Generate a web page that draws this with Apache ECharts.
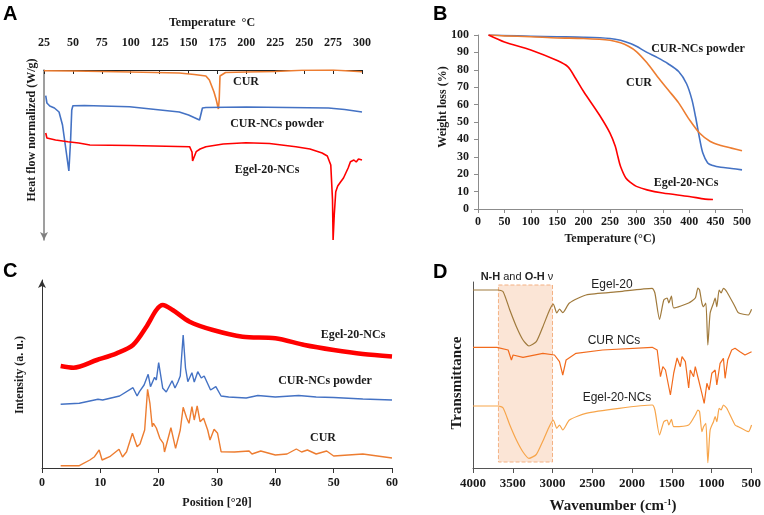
<!DOCTYPE html>
<html>
<head>
<meta charset="utf-8">
<script src="https://cdn.jsdelivr.net/npm/echarts/dist/echarts.min.js"></script>
<style>
  html, body { margin: 0; padding: 0; background: #fff; }
  #chart { width: 764px; height: 515px; }
</style>
</head>
<body>
<div id="chart"></div>
<script>
// A: DSC, heat flow in arbitrary units (endotherm down)
const dscCur = [[25, -0.7], [50, -1], [100, -2], [142, -3], [155, -4.5], [165, -6], [168, -10], [170, -16], [172, -22],
    [174, -30], [175.8, -39], [176.5, -30], [177.2, -6], [178.5, -4], [182, -2.5], [200, -2], [225, -1.5], [248, -0.3],
    [275, 0], [300, -1.7]];
const dscCurNcs = [[26.5, -25.7], [27.5, -33], [30, -36], [34, -38], [38, -42], [41, -55], [44, -80], [46.5, -101],
    [48, -70], [49, -40], [50, -35.7], [60, -35.5], [99, -36.7], [142, -42], [150, -45], [159.5, -50], [161, -49],
    [162, -38], [165, -37.5], [200, -37], [271, -38], [285, -39.5], [300, -42]];
const dscEgelNcs = [[26.5, -63], [27.5, -68], [35, -70], [45.7, -71.7], [55, -73], [64.7, -75], [100, -75.5],
    [150.9, -76.7], [153, -82], [153.5, -91], [154.5, -88], [156.6, -81.7], [160, -79], [165, -76.7], [180, -74],
    [199.7, -72.7], [220, -73.5], [242.8, -76.7], [255, -79], [265.5, -83], [270, -86], [273, -95], [274.5, -130],
    [275, -170], [276, -145], [277.3, -121.7], [279, -116], [281.6, -111.7], [284, -108], [286, -103], [288, -98],
    [290, -91.7], [293, -90], [295, -92], [297, -89], [300, -90]];

// B: TGA, weight (%)
const tgaCurNcs = [[20, 100], [50, 99.7], [100, 99.3], [150, 99], [200, 98.7], [250, 98], [270, 97], [290, 95],
    [300, 93.5], [320, 90], [340, 87], [360, 83.5], [380, 79], [395, 72], [405, 63], [412, 53], [420, 40], [426, 32],
    [435, 26.5], [445, 25], [460, 24], [480, 23.3], [500, 22.5]];
const tgaCur = [[20, 100], [50, 99.5], [100, 99], [150, 98.3], [200, 98], [250, 97], [270, 95.5], [285, 93.5],
    [300, 90.5], [320, 84], [340, 76], [360, 68.5], [380, 61], [400, 51.5], [420, 43.5], [440, 38.8], [460, 36.5],
    [480, 35], [500, 33.5]];
const tgaEgelNcs = [[20, 100], [50, 96], [100, 91.4], [150, 85.3], [170, 81.8], [185, 75], [200, 67.5], [230, 54],
    [250, 43.6], [260, 36], [265, 30], [270, 24.4], [280, 17.8], [290, 15], [300, 13], [320, 11], [350, 9.2],
    [400, 7.2], [430, 5.7], [445, 5.5]];

// C: XRD, intensity (a. u.)
const xrdEgelNcs = [[3.2, 102], [5.4, 100.3], [9.4, 108], [12.8, 114.7], [15.6, 123], [17.9, 141.3], [19.6, 158],
    [20.7, 163], [22.4, 158], [25.3, 146.3], [29.3, 138], [34.4, 131.3], [40, 129.7], [45, 123], [50, 118], [55, 114],
    [60, 111.5]];
const xrdCurNcs = [[3.2, 63.7], [6.4, 64.7], [9.6, 68.7], [10.4, 68], [13.3, 72], [13.6, 70], [15.6, 80.3], [16.3, 72],
    [16.7, 76.3], [17.5, 83], [18.2, 93.7], [18.6, 81.3], [19.3, 90.7], [19.6, 88], [20, 105.3], [20.7, 79.7],
    [21.3, 76], [22.3, 87.3], [22.8, 80], [23.3, 86], [23.7, 92], [24.2, 133], [24.6, 100], [25, 86.3], [25.7, 95.3],
    [26.1, 86], [26.7, 96.3], [27.3, 90], [27.8, 92], [28.9, 78], [29.8, 81.3], [30.7, 72], [32, 71], [35, 70],
    [37, 72.5], [40, 71], [44, 72.5], [47, 71], [50, 70.5], [55, 69], [60, 68]];
const xrdCur = [[3.2, 2.3], [6.4, 2.3], [8.2, 8], [9, 11.3], [9.8, 18], [10.3, 8], [11.6, 11.3], [13.2, 18.7],
    [13.8, 11], [14.5, 16.3], [15.5, 34.7], [16.3, 21.3], [16.8, 24], [17.6, 38], [18.1, 78.7], [18.5, 64.7],
    [18.9, 41.3], [19.1, 44.7], [19.6, 40], [20.2, 29.7], [20.8, 24.7], [21, 16], [22.1, 40.3], [22.9, 19.7],
    [23.7, 38], [24.2, 60.7], [24.8, 50], [25.2, 44.7], [25.7, 61.3], [26.1, 48], [26.6, 62], [27.1, 46.3],
    [27.7, 49.7], [28.4, 38], [28.8, 28], [29.5, 38.7], [30.1, 34.7], [30.7, 16.3], [33, 16], [35.5, 17], [36, 14],
    [37.5, 17], [40, 13], [42, 14], [43.6, 19], [44.5, 16], [45.5, 18], [47, 14], [48.8, 17], [50, 12], [55, 14],
    [60, 10]];

// D: FTIR, transmittance (a. u.) vs wavenumber
const irEgel = [[4000, 178], [3683, 178], [3621, 176.3], [3537, 158], [3454, 141.3], [3371, 128], [3296, 122],
    [3204, 126.3], [3121, 141.3], [3037, 158], [2990, 164], [2946, 155], [2912, 159], [2871, 155.3], [2787, 165],
    [2579, 173], [2162, 176.3], [1746, 179.7], [1712, 175], [1654, 148.7], [1600, 168], [1558, 170], [1537, 165],
    [1504, 172], [1475, 160], [1287, 165], [1204, 170], [1171, 180], [1150, 178], [1121, 165], [1100, 161.3],
    [1071, 165], [1046, 123], [1017, 155], [975, 165], [954, 170], [933, 161.3], [904, 178], [879, 175], [850, 179.7],
    [808, 176.3], [704, 161.3], [662, 155.3], [537, 153], [496, 158.7]];
const irCurNcs = [[4000, 120.7], [3700, 120.7], [3558, 118], [3517, 108], [3496, 113], [3371, 110.7], [3121, 114.7],
    [2975, 113], [2912, 106.3], [2871, 93], [2829, 108], [2704, 114.7], [2371, 118], [1746, 120.7], [1683, 118],
    [1642, 91.3], [1612, 101.3], [1579, 98], [1517, 73], [1475, 95], [1433, 110], [1392, 101.3], [1371, 111.3],
    [1329, 106.3], [1287, 80], [1267, 98], [1225, 91.3], [1204, 101.3], [1162, 88], [1121, 74.7], [1092, 64.7],
    [1058, 84.7], [1029, 78], [996, 94.7], [954, 98], [933, 83], [892, 104.7], [850, 109.7], [829, 89.7], [796, 108],
    [746, 118], [704, 119.7], [642, 116.3], [579, 113], [496, 116.3]];
const irEgelNcs = [[4000, 62], [3683, 62], [3621, 60], [3537, 43], [3454, 28], [3371, 16], [3296, 9.7], [3204, 13.5],
    [3121, 27], [3037, 42], [2990, 48], [2946, 39.7], [2912, 43], [2871, 38], [2787, 48], [2579, 54.7], [2162, 59.7],
    [1746, 63], [1712, 58], [1654, 33], [1600, 46.3], [1558, 48], [1537, 43], [1504, 48.7], [1475, 41.3], [1287, 43],
    [1204, 53], [1171, 58], [1150, 56.3], [1121, 36.3], [1100, 41.3], [1071, 44.7], [1046, 5.3], [1017, 38],
    [975, 46.3], [954, 51.3], [933, 46.3], [904, 59.7], [879, 58], [850, 63], [808, 59.7], [704, 43], [662, 41.3],
    [537, 36.3], [496, 43]];
// N-H / O-H stretching band (wavenumber range, transmittance range)
const ohBandX = [3680, 3000];
const ohBandY = [6, 183];

const serif = 'Liberation Serif';
const sans = 'Liberation Sans';
const ORANGE = '#ED7D31';
const BLUE = '#4472C4';
const RED = '#FF0000';

function txt(text, x, y, size, extra) {
    return Object.assign({
        type: 'text',
        x: x,
        y: y,
        style: {
            text: text,
            fontFamily: serif,
            fontWeight: 'bold',
            fontSize: size,
            fill: '#1a1a1a',
            align: 'center',
            verticalAlign: 'middle',
        },
    }, extra || {});
}

function sansTxt(text, x, y) {
    return {
        type: 'text',
        x: x,
        y: y,
        style: { text: text, fontFamily: sans, fontSize: 12, fill: '#222', align: 'center', verticalAlign: 'middle' },
    };
}

function panelLetter(text, x, y) {
    return {
        type: 'text',
        x: x,
        y: y,
        style: { text: text, fontFamily: sans, fontWeight: 'bold', fontSize: 20, fill: '#000', verticalAlign: 'middle' },
    };
}

function line(name, data, color, xi, width, extra) {
    return Object.assign({
        name: name,
        type: 'line',
        xAxisIndex: xi,
        yAxisIndex: xi,
        data: data,
        showSymbol: false,
        symbol: 'none',
        z: 3,
        lineStyle: { color: color, width: width },
        itemStyle: { color: color },
        animation: false,
    }, extra || {});
}

const tickLabel = {
    fontFamily: serif,
    fontWeight: 'bold',
    fontSize: 12,
    color: '#1a1a1a',
    formatter: (v) => String(v),
};

const option = {
    backgroundColor: '#fff',
    animation: false,
    grid: [
        { left: 44, top: 70, width: 318, height: 170 },
        { left: 478, top: 35, width: 264, height: 174 },
        { left: 42, top: 280, width: 350, height: 188 },
        { left: 473, top: 282, width: 280, height: 186 },
    ],
    xAxis: [
        {
            gridIndex: 0, type: 'value', position: 'top', min: 25, max: 300, interval: 25,
            axisLine: { lineStyle: { color: '#222', width: 1 } },
            axisTick: { inside: true, length: 4, lineStyle: { color: '#222' } },
            axisLabel: Object.assign({ margin: 21 }, tickLabel),
            splitLine: { show: false },
        },
        {
            gridIndex: 1, type: 'value', min: 0, max: 500, interval: 50,
            axisLine: { lineStyle: { color: '#8c8c8c' } },
            axisTick: { length: 4, lineStyle: { color: '#8c8c8c' } },
            axisLabel: Object.assign({ margin: 7 }, tickLabel),
            splitLine: { show: false },
        },
        {
            gridIndex: 2, type: 'value', min: 0, max: 60, interval: 10,
            axisLine: { lineStyle: { color: '#333' } },
            axisTick: { length: 5, lineStyle: { color: '#333' } },
            axisLabel: Object.assign({ margin: 9 }, tickLabel),
            splitLine: { show: false },
        },
        {
            gridIndex: 3, type: 'value', inverse: true, min: 500, max: 4000, interval: 500,
            axisLine: { lineStyle: { color: '#555' } },
            axisTick: { length: 5, lineStyle: { color: '#555' } },
            axisLabel: Object.assign({ margin: 9 }, tickLabel, { fontSize: 13 }),
            splitLine: { show: false },
        },
    ],
    yAxis: [
        {
            gridIndex: 0, type: 'value', min: -170, max: 0,
            axisLine: { show: true, symbol: ['arrow', 'none'], symbolSize: [6, 8], lineStyle: { color: '#7f7f7f', width: 1.5 } },
            axisTick: { show: false }, axisLabel: { show: false }, splitLine: { show: false },
        },
        {
            gridIndex: 1, type: 'value', min: 0, max: 100, interval: 10,
            axisLine: { show: true, lineStyle: { color: '#8c8c8c' } },
            axisTick: { show: true, length: 4, lineStyle: { color: '#8c8c8c' } },
            axisLabel: Object.assign({ margin: 9 }, tickLabel),
            splitLine: { show: false },
        },
        {
            gridIndex: 2, type: 'value', min: 0, max: 188,
            axisLine: { show: true, symbol: ['none', 'arrow'], symbolSize: [6, 8], lineStyle: { color: '#333' } },
            axisTick: { show: false }, axisLabel: { show: false }, splitLine: { show: false },
        },
        {
            gridIndex: 3, type: 'value', min: 0, max: 186,
            axisLine: { show: true, lineStyle: { color: '#555' } },
            axisTick: { show: false }, axisLabel: { show: false }, splitLine: { show: false },
        },
    ],
    series: [
        line('CUR', dscCur, ORANGE, 0, 1.6),
        line('CUR-NCs powder', dscCurNcs, BLUE, 0, 1.6),
        line('Egel-20-NCs', dscEgelNcs, RED, 0, 1.6),

        line('CUR-NCs powder', tgaCurNcs, BLUE, 1, 1.6, { smooth: 0.3 }),
        line('CUR', tgaCur, ORANGE, 1, 1.6, { smooth: 0.3 }),
        line('Egel-20-NCs', tgaEgelNcs, RED, 1, 1.6, { smooth: 0.3 }),

        line('Egel-20-NCs', xrdEgelNcs, RED, 2, 4.5, { smooth: 0.3 }),
        line('CUR-NCs powder', xrdCurNcs, BLUE, 2, 1.4),
        line('CUR', xrdCur, ORANGE, 2, 1.4),

        {
            name: 'band', type: 'line', xAxisIndex: 3, yAxisIndex: 3, data: [], z: 1,
            markArea: {
                silent: true,
                itemStyle: { color: '#FBE5D6', borderColor: '#F4B183', borderWidth: 1, borderType: 'dashed' },
                data: [[{ xAxis: ohBandX[0], yAxis: ohBandY[1] }, { xAxis: ohBandX[1], yAxis: ohBandY[0] }]],
            },
        },
        line('Egel-20', irEgel, '#A07A3C', 3, 1.2, { smooth: 0.2 }),
        line('CUR NCs', irCurNcs, '#F26B1D', 3, 1.2),
        line('Egel-20-NCs', irEgelNcs, '#F7A54A', 3, 1.2, { smooth: 0.2 }),
    ],
    graphic: [
        panelLetter('A', 3, 14),
        panelLetter('B', 433, 14),
        panelLetter('C', 3, 271),
        panelLetter('D', 433, 272),

        txt('Temperature  °C', 212, 23, 12),
        txt('Heat flow normalized (W/g)', 32, 130, 12, { rotation: Math.PI / 2 }),
        txt('CUR', 246, 82, 12),
        txt('CUR-NCs powder', 277, 124, 12),
        txt('Egel-20-NCs', 267, 170, 12),

        txt('Weight loss (%)', 443, 107, 12, { rotation: Math.PI / 2 }),
        txt('Temperature (°C)', 610, 239, 12),
        txt('CUR-NCs powder', 698, 49, 12),
        txt('CUR', 639, 83, 12),
        txt('Egel-20-NCs', 686, 183, 12),

        txt('Intensity (a. u.)', 20, 375, 12, { rotation: Math.PI / 2 }),
        txt('Position [°2θ]', 217, 503, 12),
        txt('Egel-20-NCs', 353, 335, 12),
        txt('CUR-NCs powder', 325, 381, 12),
        txt('CUR', 323, 438, 12),

        txt('Transmittance', 457, 383, 15, { rotation: Math.PI / 2 }),
        {
            type: 'text', x: 613, y: 506,
            style: {
                text: 'Wavenumber (cm{sup|-1})',
                fontFamily: serif, fontWeight: 'bold', fontSize: 15, fill: '#1a1a1a',
                align: 'center', verticalAlign: 'middle',
                rich: { sup: { fontFamily: serif, fontWeight: 'bold', fontSize: 9, verticalAlign: 'top', padding: [0, 0, 7, 0] } },
            },
        },
        {
            type: 'text', x: 517, y: 277,
            style: {
                text: '{b|N-H} and {b|O-H} ν',
                fontFamily: sans, fontSize: 11, fill: '#222',
                align: 'center', verticalAlign: 'middle',
                rich: { b: { fontFamily: sans, fontWeight: 'bold', fontSize: 11 } },
            },
        },
        sansTxt('Egel-20', 612, 285),
        sansTxt('CUR NCs', 614, 341),
        sansTxt('Egel-20-NCs', 617, 398),
    ],
};

const chart = echarts.init(document.getElementById('chart'), null, { renderer: 'canvas' });
chart.setOption(option);
</script>
</body>
</html>
